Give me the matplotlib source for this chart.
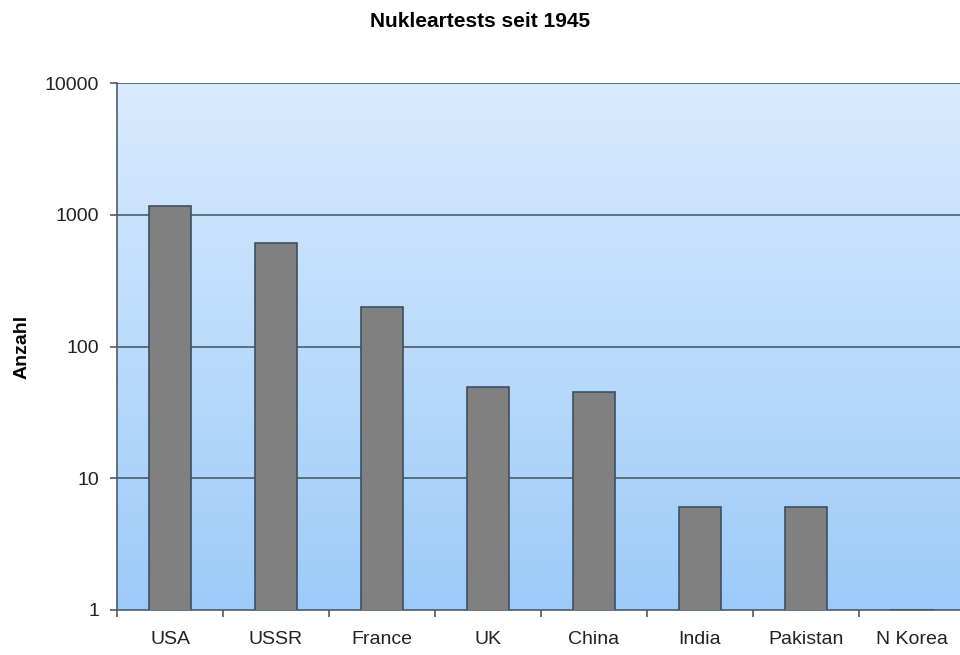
import numpy as np
import matplotlib
matplotlib.use('Agg')
from matplotlib import pyplot as plt
from matplotlib.colors import LinearSegmentedColormap

plt.rcParams['font.family'] = ['Liberation Sans', 'DejaVu Sans']

# Data
countries = ['USA', 'USSR', 'France', 'UK', 'China', 'India', 'Pakistan', 'N Korea']
tests = [1160, 610, 200, 49, 45, 6, 6, 1]
yticks = [1, 10, 100, 1000, 10000]
yticklabels = ['1', '10', '100', '1000', '10000']

fig = plt.figure(figsize=(9.6, 6.55), dpi=100)
ax = fig.add_axes([117/960, 45/655, 848/960, 527/655])

# Background gradient, light at the top, darker blue at the bottom
cmap = LinearSegmentedColormap.from_list('bg', ['#9dcbf9', '#d9ebfe'])
gradient = np.linspace(0, 1, 256).reshape(-1, 1)
ax.imshow(gradient, cmap=cmap, extent=[0, 1, 0, 1], origin='lower',
          aspect='auto', transform=ax.transAxes, zorder=0)

x = np.arange(len(countries))
ax.bar(x, tests, width=0.4, color='#808080', edgecolor='#3f4f60',
       linewidth=1.2, zorder=3)

ax.set_yscale('log')
ax.set_ylim(1, 10000)
ax.set_xlim(-0.5, len(countries) - 0.5)
ax.set_yticks(yticks)
ax.set_yticklabels(yticklabels)
ax.yaxis.set_minor_locator(matplotlib.ticker.NullLocator())

# Horizontal grid lines
for v in yticks[1:]:
    ax.axhline(v, color='#4c5c6c', linewidth=1.2, zorder=2)

# Category labels with tick marks at the boundaries
ax.set_xticks(x)
ax.set_xticklabels(countries, fontsize=14, color='#222222')
ax.tick_params(axis='x', length=0, pad=15)
ax.set_xticks(np.arange(len(countries)) - 0.5, minor=True)
ax.tick_params(axis='x', which='minor', length=5, color='#4c5c6c', width=1.2)
ax.tick_params(axis='y', length=5, color='#4c5c6c', width=1.2, labelsize=14,
               labelcolor='#222222', pad=8)

for side in ['top', 'right']:
    ax.spines[side].set_visible(False)
for side in ['left', 'bottom']:
    ax.spines[side].set_color('#4c5c6c')
    ax.spines[side].set_linewidth(1.2)

ax.set_ylabel('Anzahl', fontsize=14, fontweight='bold', labelpad=10)
fig.text(0.5, 0.967, 'Nukleartests seit 1945', ha='center', va='center',
         fontsize=15, fontweight='bold')

fig.savefig('out.png', dpi=100)
